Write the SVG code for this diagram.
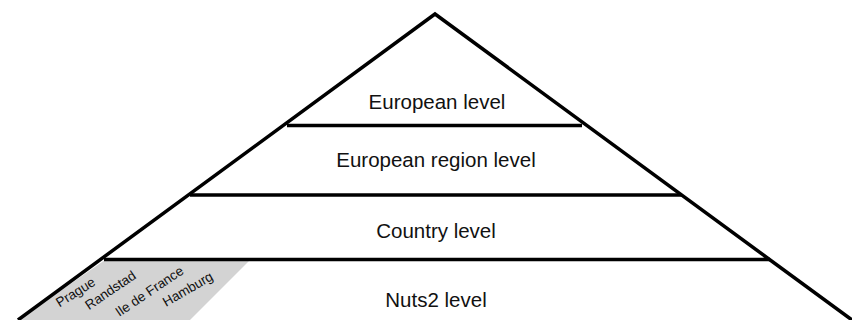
<svg xmlns="http://www.w3.org/2000/svg" width="852" height="320" viewBox="0 0 852 320">
<style>
.ln{stroke:#000;stroke-width:3.5;fill:none;stroke-linecap:butt}
.t{font-family:"Liberation Sans",Arial,sans-serif;font-size:20.5px;fill:#111;text-anchor:middle}
.s{font-family:"Liberation Sans",Arial,sans-serif;font-size:13.5px;fill:#111;text-anchor:middle}
</style>
<rect width="852" height="320" fill="#fff"/>
<g id="regions">
<polygon points="105,260 250,260 190,320 18,320" fill="#d3d3d3"/>
<text class="s" transform="translate(78,296) rotate(-32)">Prague</text>
<text class="s" transform="translate(113,294) rotate(-34)">Randstad</text>
<text class="s" transform="translate(152,295) rotate(-34)">Ile de France</text>
<text class="s" transform="translate(190,293) rotate(-30)">Hamburg</text>
</g>
<g id="connectors">
<polyline class="ln" points="18,320 435,14 852,320" stroke-linejoin="miter"/>
<line class="ln" x1="287" y1="125.5" x2="582" y2="125.5"/>
<line class="ln" x1="190" y1="195" x2="682" y2="195"/>
<line class="ln" x1="104" y1="259.5" x2="770" y2="259.5"/>
</g>
<g id="european"><text class="t" x="437" y="109">European level</text></g>
<g id="european-region"><text class="t" x="436" y="167">European region level</text></g>
<g id="country"><text class="t" x="436" y="238">Country level</text></g>
<g id="nuts2"><text class="t" x="436" y="307">Nuts2 level</text></g>
</svg>
